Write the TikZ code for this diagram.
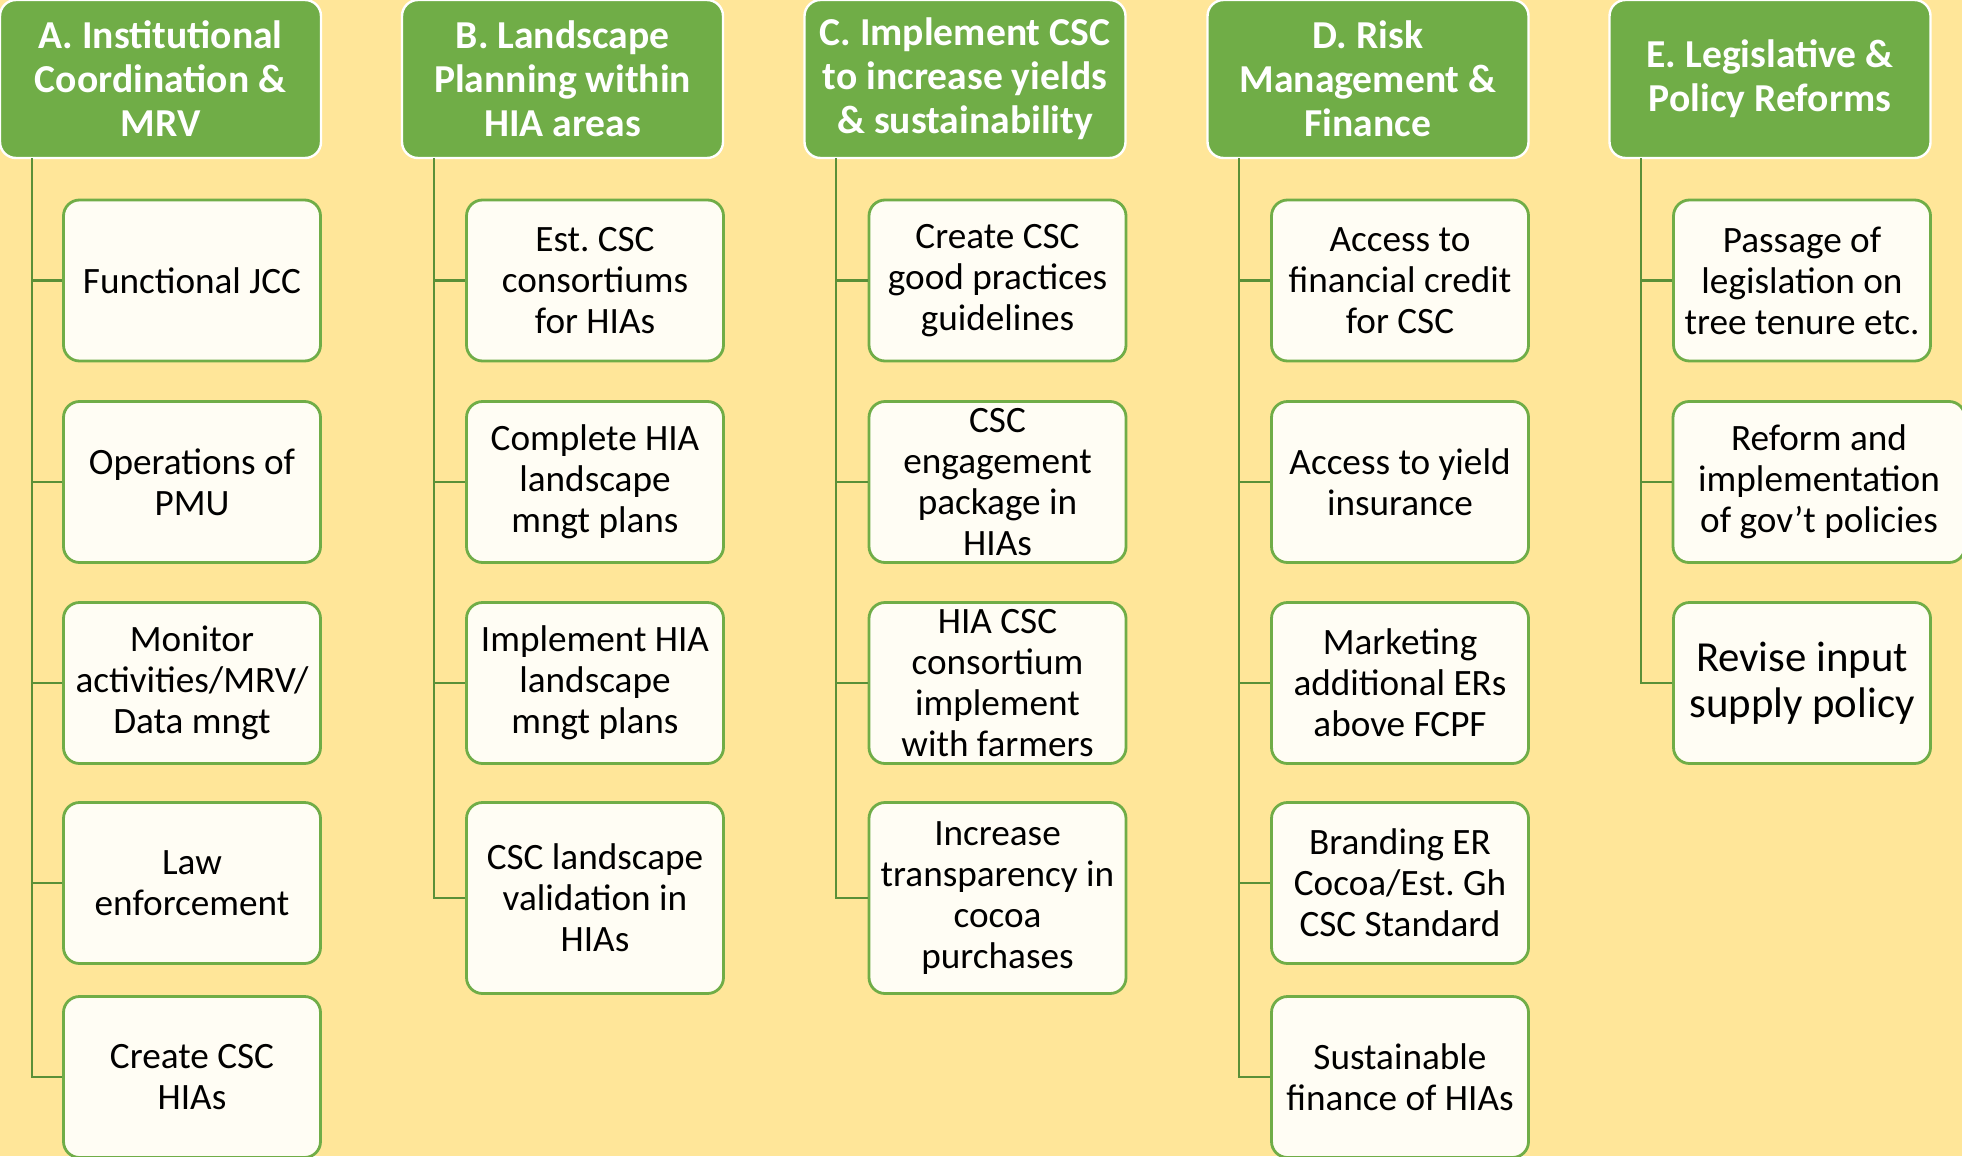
\documentclass[tikz,border=0pt]{standalone}
\usepackage{fontspec}
\setmainfont{Carlito}
\frenchspacing
\usetikzlibrary{positioning}
\definecolor{bgyellow}{HTML}{FFE699}
\definecolor{headgreen}{HTML}{70AD47}
\definecolor{boxfill}{HTML}{FFFDF4}
\definecolor{linkgreen}{HTML}{5A9038}
\tikzset{
    head/.style ={
        shape=rectangle,
        rounded corners=8pt,
        draw=white,
        line width=1.2pt,
        fill=headgreen,
        text=white,
        font=\fontsize{19.8}{22}\selectfont\bfseries,
        align=center,
        inner sep=0pt,
        minimum width=160.5pt,
        minimum height=79pt
    },
    item/.style ={
        shape=rectangle,
        rounded corners=8pt,
        draw=headgreen,
        line width=1.4pt,
        fill=boxfill,
        text=black,
        font=\fontsize{18.6}{20.5}\selectfont,
        align=center,
        inner sep=0pt,
        minimum width=128.5pt,
        minimum height=80.5pt
    },
    link/.style ={
        draw=linkgreen,
        line width=1.3pt
    }
}

\begin{document}
\begin{tikzpicture}[x=0.5pt,y=-0.5pt]
    \useasboundingbox[fill=bgyellow] (0,0) rectangle (1962,1156);
    \clip (0,0) rectangle (1962,1156);
    % headers
    \node[head] (hA) at(160.5,79) {A. Institutional\\Coordination \&\\MRV};
    \node[head] (hB) at(562.5,79) {B. Landscape\\Planning within\\HIA areas};
    \node[head] (hC) at(965,79) {C. Implement CSC\\to increase yields\\\& sustainability};
    \node[head] (hD) at(1368,79) {D. Risk\\Management \&\\Finance};
    \node[head] (hE) at(1770,79) {E. Legislative \&\\Policy Reforms};
    % trunk tops
    \coordinate (tA) at(32,158);
    \coordinate (tB) at(434,158);
    \coordinate (tC) at(836,158);
    \coordinate (tD) at(1239,158);
    \coordinate (tE) at(1641,158);
    % column A
    \node[item] (a1) at(192,280.5) {Functional JCC};
    \node[item] (a2) at(192,482) {Operations of\\PMU};
    \node[item] (a3) at(192,683) {Monitor\\activities/MRV/\\Data mngt};
    \node[item] (a4) at(192,883) {Law\\enforcement};
    \node[item] (a5) at(192,1077) {Create CSC\\HIAs};
    % column B
    \node[item] (b1) at(595,280.5) {Est. CSC\\consortiums\\for HIAs};
    \node[item] (b2) at(595,482) {Complete HIA\\landscape\\mngt plans};
    \node[item] (b3) at(595,683) {Implement HIA\\landscape\\mngt plans};
    \node[item,minimum height=95.5pt] (b4) at(595,898) {CSC landscape\\validation in\\HIAs};
    % column C
    \node[item] (c1) at(997.5,280.5) {Create CSC\\good practices\\guidelines};
    \node[item] (c2) at(997.5,482) {CSC\\engagement\\package in\\HIAs};
    \node[item] (c3) at(997.5,683) {HIA CSC\\consortium\\implement\\with farmers};
    \node[item,minimum height=95.5pt] (c4) at(997.5,898) {Increase\\transparency in\\cocoa\\purchases};
    % column D
    \node[item] (d1) at(1400,280.5) {Access to\\financial credit\\for CSC};
    \node[item] (d2) at(1400,482) {Access to yield\\insurance};
    \node[item] (d3) at(1400,683) {Marketing\\additional ERs\\above FCPF};
    \node[item] (d4) at(1400,883) {Branding ER\\Cocoa/Est. Gh\\CSC Standard};
    \node[item] (d5) at(1400,1077) {Sustainable\\finance of HIAs};
    % column E
    \node[item] (e1) at(1802,280.5) {Passage of\\legislation on\\tree tenure etc.};
    \node[item,minimum width=146pt] (e2) at(1819,482) {Reform and\\implementation\\of gov’t policies};
    \node[item,font=\fontsize{21.4}{23}\selectfont] (e3) at(1802,683) {Revise input\\supply policy};
    % connectors
    \foreach \t/\list in {tA/{a1,a2,a3,a4,a5},tB/{b1,b2,b3,b4},tC/{c1,c2,c3,c4},tD/{d1,d2,d3,d4,d5},tE/{e1,e2,e3}}{
        \foreach \n in \list{
            \draw[link] (\t) |- (\n.west);
        }
    }
\end{tikzpicture}
\end{document}
